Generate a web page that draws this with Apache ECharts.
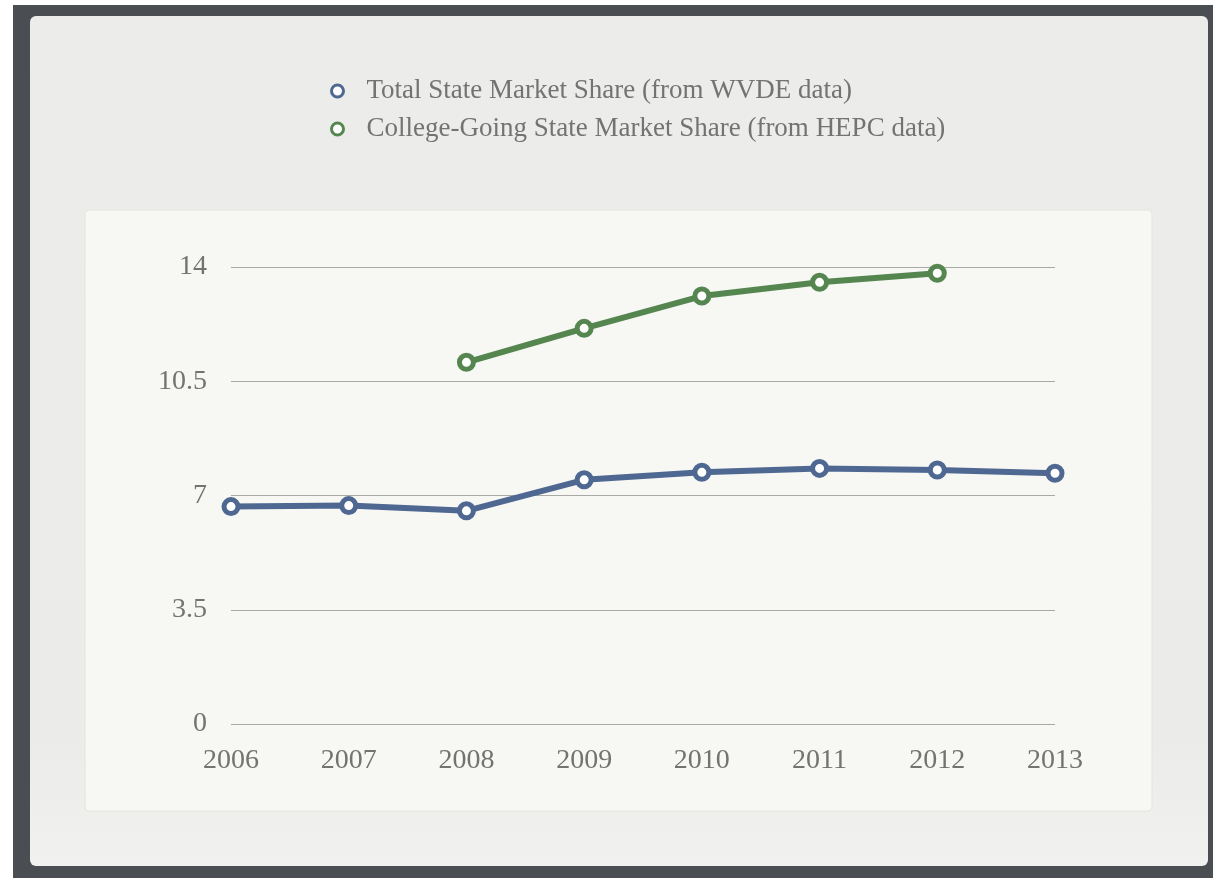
<!DOCTYPE html>
<html>
<head>
<meta charset="utf-8">
<title>State Market Share</title>
<script src="https://cdn.jsdelivr.net/npm/echarts@6/dist/echarts.min.js"></script>
<style>
  html, body { margin: 0; padding: 0; background: #ffffff; }
  #chart { width: 1213px; height: 878px; }
</style>
</head>
<body>
<div id="chart"></div>
<script>
// Years on the category axis
const years = ['2006', '2007', '2008', '2009', '2010', '2011', '2012', '2013'];

// Total state market share (WVDE data)
const totalShare = [6.66, 6.69, 6.53, 7.48, 7.71, 7.83, 7.78, 7.68];

// College-going state market share (HEPC data), starts in 2008 and ends in 2012
const collegeShare = [null, null, 11.08, 12.12, 13.11, 13.53, 13.81, null];

// Value-axis ticks
const yTicks = [0, 3.5, 7, 10.5, 14];

const seriesNames = [
  'Total State Market Share (from WVDE data)',
  'College-Going State Market Share (from HEPC data)'
];

const BLUE = '#4f6891';
const GREEN = '#558650';
const TEXT = '#737371';
const SERIF = '"Liberation Serif", "DejaVu Serif", serif';

const chart = echarts.init(document.getElementById('chart'), null, { renderer: 'canvas' });

chart.setOption({
  animation: false,
  backgroundColor: '#ffffff',
  graphic: [
    // dark outer frame
    { type: 'rect', z: -10, silent: true,
      shape: { x: 13, y: 5, width: 1200, height: 873 },
      style: { fill: '#4a4d52' } },
    // light slide panel
    { type: 'rect', z: -9, silent: true,
      shape: { x: 30, y: 16, width: 1178, height: 850, r: 6 },
      style: {
        fill: new echarts.graphic.LinearGradient(0, 0, 0, 1, [
          { offset: 0, color: '#ececea' },
          { offset: 0.85, color: '#ebebe9' },
          { offset: 1, color: '#f1f1ef' }
        ])
      } },
    // plot panel
    { type: 'rect', z: -8, silent: true,
      shape: { x: 85, y: 210, width: 1067, height: 601, r: 4 },
      style: { fill: '#f7f7f3', stroke: '#e4e4e0', lineWidth: 1 } }
  ],
  legend: {
    orient: 'vertical',
    left: 325,
    top: 71,
    itemWidth: 48,
    itemHeight: 12,
    itemGap: 8,
    icon: 'circle',
    textStyle: {
      fontFamily: SERIF,
      fontSize: 27,
      lineHeight: 30,
      color: TEXT
    },
    data: [
      { name: seriesNames[0], itemStyle: { color: '#ffffff', borderColor: BLUE, borderWidth: 3 } },
      { name: seriesNames[1], itemStyle: { color: '#ffffff', borderColor: GREEN, borderWidth: 3 } }
    ]
  },
  grid: {
    left: 231,
    right: 158,
    top: 267,
    bottom: 154,
    containLabel: false
  },
  xAxis: {
    type: 'category',
    data: years,
    boundaryGap: false,
    axisLine: { show: false },
    axisTick: { show: false },
    axisLabel: {
      margin: 23,
      fontFamily: SERIF,
      fontSize: 28,
      color: TEXT
    }
  },
  yAxis: {
    type: 'value',
    min: yTicks[0],
    max: yTicks[yTicks.length - 1],
    interval: yTicks[1] - yTicks[0],
    axisLine: { show: false },
    axisTick: { show: false },
    splitLine: { lineStyle: { color: '#a9a9a6', width: 1 } },
    axisLabel: {
      margin: 24,
      fontFamily: SERIF,
      fontSize: 28,
      color: TEXT,
      padding: [7, 0, 0, 0]
    }
  },
  series: [
    {
      name: seriesNames[0],
      type: 'line',
      data: totalShare,
      symbol: 'circle',
      symbolSize: 14,
      lineStyle: { color: BLUE, width: 6 },
      itemStyle: { color: '#ffffff', borderColor: BLUE, borderWidth: 5 },
      z: 3
    },
    {
      name: seriesNames[1],
      type: 'line',
      data: collegeShare,
      symbol: 'circle',
      symbolSize: 14,
      lineStyle: { color: GREEN, width: 6 },
      itemStyle: { color: '#ffffff', borderColor: GREEN, borderWidth: 5 },
      z: 3
    }
  ]
});
</script>
</body>
</html>
